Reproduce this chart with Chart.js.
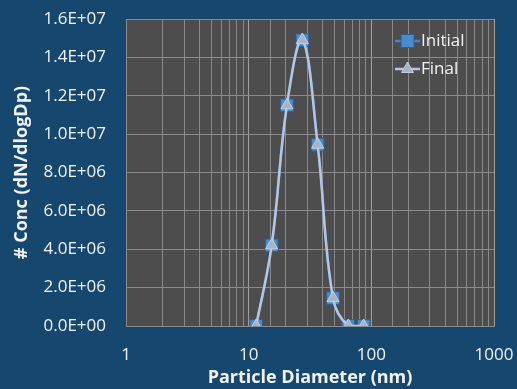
<!DOCTYPE html>
<html>
<head>
<meta charset="utf-8">
<script src="https://cdn.jsdelivr.net/npm/chart.js@4.4.1/dist/chart.umd.min.js"></script>
<style>
  html, body { margin: 0; padding: 0; background: #16486f; }
</style>
</head>
<body>
<canvas id="sizeChart" width="517" height="389"></canvas>
<script>
// particle size distribution
const diameters = [11.5, 15.4, 20.5, 27.4, 36.5, 48.7, 64.9, 86.6];
const initialConc = [0, 4.2e6, 11.5e6, 14.9e6, 9.45e6, 1.45e6, 0, 0];
const finalConc = [0, 4.2e6, 11.5e6, 14.9e6, 9.45e6, 1.45e6, 0, 0];
const seriesNames = ['Initial', 'Final'];
const xTickLabels = [1, 10, 100, 1000];

const gridColor = '#8a8a8a';
const majorGrid = '#a0a0a0';
const textColor = '#f2f2f2';

function sci(v) {
  const parts = Number(v).toExponential(1).split('e');
  let exp = parseInt(parts[1], 10);
  const sign = exp < 0 ? '-' : '+';
  exp = Math.abs(exp);
  return parts[0] + 'E' + sign + (exp < 10 ? '0' + exp : exp);
}

function toPoints(xs, ys) {
  return xs.map((x, i) => ({ x: x, y: ys[i] }));
}

const plotBg = {
  id: 'plotBg',
  beforeDraw(chart) {
    const { ctx, chartArea: a } = chart;
    ctx.save();
    ctx.fillStyle = '#4d4d4d';
    ctx.fillRect(a.left, a.top, a.right - a.left, a.bottom - a.top);
    ctx.restore();
  }
};

function drawMarker(ctx, style, x, y) {
  ctx.beginPath();
  if (style === 'rect') {
    ctx.rect(x - 6.5, y - 6.5, 13, 13);
  } else {
    ctx.moveTo(x, y - 7);
    ctx.lineTo(x + 6, y + 3.5);
    ctx.lineTo(x - 6, y + 3.5);
    ctx.closePath();
  }
  ctx.fill();
  ctx.stroke();
}

// legend sits inside the plot, top right
const innerLegend = {
  id: 'innerLegend',
  afterDraw(chart) {
    const ctx = chart.ctx;
    const rows = [41, 69];
    ctx.save();
    chart.data.datasets
      .slice()
      .sort((a, b) => a.legendIndex - b.legendIndex)
      .forEach((ds, i) => {
        const y = rows[i];
        ctx.strokeStyle = ds.borderColor;
        ctx.lineWidth = 2.5;
        ctx.beginPath();
        ctx.moveTo(395, y);
        ctx.lineTo(420, y);
        ctx.stroke();
        ctx.fillStyle = ds.pointBackgroundColor;
        ctx.strokeStyle = ds.pointBorderColor;
        ctx.lineWidth = 1;
        drawMarker(ctx, ds.pointStyle, 407.5, y);
        ctx.fillStyle = textColor;
        ctx.font = '17px "Open Sans"';
        ctx.textBaseline = 'middle';
        ctx.fillText(ds.label, 421, y);
      });
    ctx.restore();
  }
};

new Chart(document.getElementById('sizeChart'), {
  type: 'line',
  data: {
    datasets: [
      {
        label: seriesNames[0],
        legendIndex: 0,
        order: 2,
        data: toPoints(diameters, initialConc),
        borderColor: '#4f81bd',
        borderWidth: 2.5,
        pointStyle: 'rect',
        pointRadius: 9,
        pointBackgroundColor: '#4a8ccf',
        pointBorderColor: '#2c5f93',
        pointBorderWidth: 1,
        tension: 0.4
      },
      {
        label: seriesNames[1],
        legendIndex: 1,
        order: 1,
        data: toPoints(diameters, finalConc),
        borderColor: '#b3c7e2',
        borderWidth: 2.5,
        pointStyle: 'triangle',
        pointRadius: 7,
        pointBackgroundColor: '#a7b4c6',
        pointBorderColor: '#c4d0e0',
        pointBorderWidth: 1,
        tension: 0.4
      }
    ]
  },
  options: {
    responsive: false,
    animation: false,
    layout: { padding: { top: 19, right: 23, left: 0, bottom: 0 } },
    plugins: {
      legend: { display: false },
      tooltip: { enabled: false }
    },
    scales: {
      x: {
        type: 'logarithmic',
        min: 1,
        max: 1000,
        afterFit(scale) {
          scale.height = 63;
          scale.paddingLeft = 0;
          scale.paddingRight = 0;
        },
        border: { color: gridColor, width: 1 },
        grid: {
          color: (c) => (c.tick && xTickLabels.includes(c.tick.value) ? majorGrid : gridColor),
          drawTicks: false
        },
        ticks: {
          autoSkip: false,
          maxRotation: 0,
          padding: 19,
          color: textColor,
          font: { family: 'Open Sans', size: 17 },
          callback(value) {
            return xTickLabels.includes(value) ? String(value) : '';
          }
        },
        title: {
          display: true,
          text: 'Particle Diameter (nm)',
          color: textColor,
          padding: { top: 0, bottom: 0 },
          font: { family: 'Open Sans', size: 18, weight: 'bold' }
        }
      },
      y: {
        min: 0,
        max: 1.6e7,
        afterFit(scale) {
          scale.width = 126;
          scale.paddingTop = 0;
          scale.paddingBottom = 0;
        },
        border: { color: gridColor, width: 1 },
        grid: { color: gridColor, drawTicks: false },
        ticks: {
          stepSize: 2e6,
          padding: 20,
          color: textColor,
          font: { family: 'Open Sans', size: 17 },
          callback: (v) => sci(v)
        },
        title: {
          display: true,
          text: '# Conc (dN/dlogDp)',
          color: textColor,
          padding: { top: 11, bottom: 0 },
          font: { family: 'Open Sans', size: 18, weight: 'bold' }
        }
      }
    }
  },
  plugins: [plotBg, innerLegend]
});
</script>
</body>
</html>
